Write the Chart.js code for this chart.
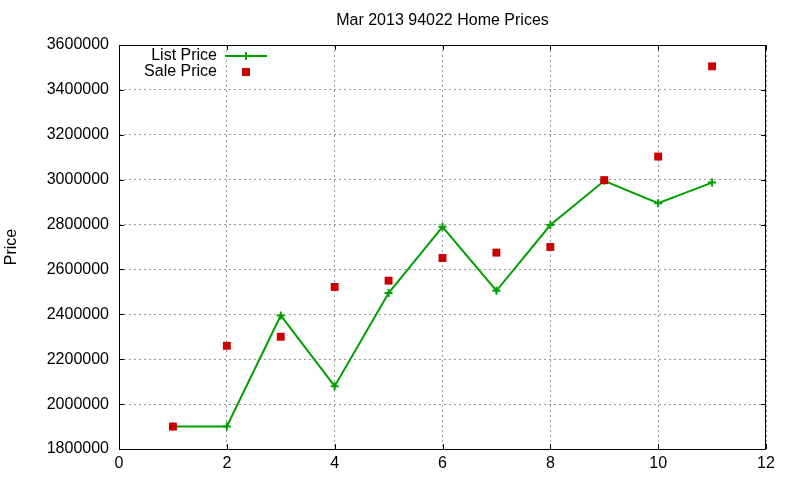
<!DOCTYPE html>
<html><head><meta charset="utf-8">
<script src="https://cdn.jsdelivr.net/npm/chart.js@4"></script>
<style>html,body{margin:0;padding:0;background:#fff}#wrap{width:800px;height:480px}</style>
</head><body><div id="wrap"><canvas id="c" width="800" height="480"></canvas></div>
<script>
const chartTitle = "Mar 2013 94022 Home Prices";
const yAxisTitle = "Price";
const months = [1, 2, 3, 4, 5, 6, 7, 8, 9, 10, 11];
const listPrice = [1900000, 1900000, 2395000, 2080000, 2495000, 2790000, 2505000, 2798000, 2995000, 2895000, 2987000];
const salePrice = [1900000, 2260000, 2300000, 2522000, 2550000, 2651000, 2675000, 2700000, 2998000, 3103000, 3505000];
const xTicks = [0, 2, 4, 6, 8, 10, 12];
const yTicks = [1800000, 2000000, 2200000, 2400000, 2600000, 2800000, 3000000, 3200000, 3400000, 3600000];
const seriesNames = ["List Price", "Sale Price"];

const GREEN = "#00a000", RED = "#cc0000";
const FONT = "'Liberation Sans', Arial, sans-serif";

const framePlugin = {
  id: 'frame',
  afterDatasetsDraw(chart) {
    const {ctx, chartArea: a, scales: {x, y}} = chart;
    ctx.save();
    ctx.strokeStyle = '#000'; ctx.lineWidth = 1; ctx.setLineDash([]);
    ctx.strokeRect(Math.round(a.left) + 0.5, Math.round(a.top) + 0.5, Math.round(a.right - a.left) - 1, Math.round(a.bottom - a.top));
    const L = 5;
    ctx.beginPath();
    yTicks.forEach(v => {
      const py = Math.round(y.getPixelForValue(v)) + 0.5;
      ctx.moveTo(a.left, py); ctx.lineTo(a.left + L, py);
      ctx.moveTo(a.right, py); ctx.lineTo(a.right - L, py);
    });
    xTicks.forEach(v => {
      const px = Math.round(x.getPixelForValue(v)) + 0.5;
      ctx.moveTo(px, a.bottom); ctx.lineTo(px, a.bottom - L);
      ctx.moveTo(px, a.top); ctx.lineTo(px, a.top + L);
    });
    ctx.stroke();
    // title
    ctx.font = "16px " + FONT;
    ctx.fillStyle = '#000';
    ctx.textAlign = 'center'; ctx.textBaseline = 'middle';
    ctx.fillText(chartTitle, (a.left + a.right) / 2, 21);
    // legend
    ctx.textAlign = 'right';
    ctx.fillText(seriesNames[0], 217, 56);
    ctx.fillText(seriesNames[1], 217, 72);
    ctx.strokeStyle = GREEN; ctx.lineWidth = 2;
    ctx.beginPath(); ctx.moveTo(225, 56); ctx.lineTo(267, 56);
    ctx.moveTo(246, 52); ctx.lineTo(246, 60); ctx.stroke();
    ctx.fillStyle = RED;
    ctx.fillRect(242, 68, 8, 8);
    ctx.restore();
  }
};

new Chart(document.getElementById('c'), {
  type: 'scatter',
  data: {
    datasets: [
      {
        label: seriesNames[0],
        data: months.map((m, i) => ({x: m, y: listPrice[i]})),
        showLine: true,
        borderColor: GREEN, backgroundColor: GREEN,
        borderWidth: 2,
        pointStyle: 'cross', pointRadius: 4, pointBorderWidth: 2,
        order: 1
      },
      {
        label: seriesNames[1],
        data: months.map((m, i) => ({x: m, y: salePrice[i]})),
        showLine: false,
        borderColor: RED, backgroundColor: RED,
        pointStyle: 'rect', pointRadius: 5.6, pointBorderWidth: 0,
        order: 0
      }
    ]
  },
  options: {
    responsive: false,
    animation: false,
    events: [],
    layout: {padding: {left: 0, right: 34, top: 45, bottom: 0}},
    plugins: {
      legend: {display: false},
      tooltip: {enabled: false},
      title: {display: false}
    },
    scales: {
      x: {
        type: 'linear', min: 0, max: 12,
        afterBuildTicks: s => { s.ticks = xTicks.map(v => ({value: v})); },
        afterFit: s => { s.height = 31; },
        ticks: {color: '#000', font: {family: FONT, size: 16}, padding: 5, maxRotation: 0},
        grid: {color: '#999', drawTicks: false},
        border: {display: false, dash: [2, 3]}
      },
      y: {
        min: 1800000, max: 3600000,
        afterBuildTicks: s => { s.ticks = yTicks.map(v => ({value: v})); },
        afterFit: s => { s.width = 119; },
        ticks: {color: '#000', font: {family: FONT, size: 16}, padding: 10, callback: v => String(v)},
        grid: {color: '#999', drawTicks: false},
        border: {display: false, dash: [2, 3]},
        title: {display: true, text: yAxisTitle, color: '#000', font: {family: FONT, size: 16, lineHeight: 1.2}, padding: {top: 2, bottom: 0}}
      }
    }
  },
  plugins: [framePlugin]
});
</script>
</body></html>
